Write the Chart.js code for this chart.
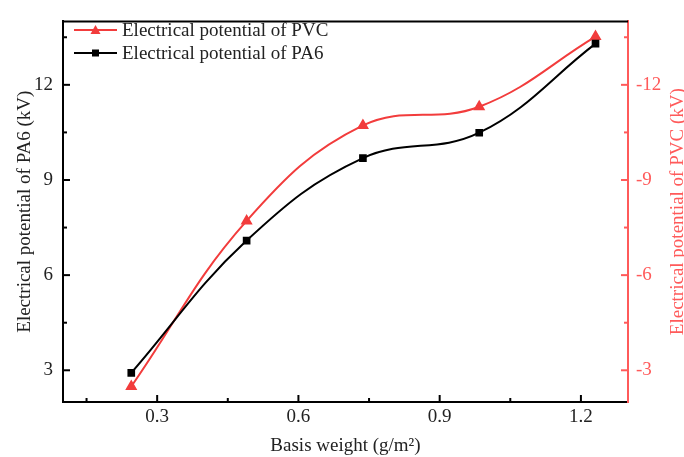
<!DOCTYPE html>
<html>
<head>
<meta charset="utf-8">
<script src="https://cdn.jsdelivr.net/npm/chart.js@4"></script>
<style>
  html, body { margin: 0; padding: 0; background: #fff; }
  #wrap { width: 684px; height: 457px; }
</style>
</head>
<body>
<div id="wrap"><canvas id="chart" width="684" height="457"></canvas></div>
<script>
// dati
const basisWeight = [0.245, 0.49, 0.737, 0.984, 1.231];
const pa6Potential = [2.92, 7.09, 9.69, 10.49, 13.30];
const pvcPotential = [-2.49, -7.71, -10.72, -11.31, -13.52];

const xTicks = [0.3, 0.6, 0.9, 1.2];
const xMinorTicks = [0.15, 0.45, 0.75, 1.05];
const leftTicks = [3, 6, 9, 12];
const leftMinorTicks = [4.5, 7.5, 10.5, 13.5];
const rightTicks = [-3, -6, -9, -12];
const rightMinorTicks = [-4.5, -7.5, -10.5, -13.5];

const labelPA6 = 'Electrical potential of PA6';
const labelPVC = 'Electrical potential of PVC';
const titleX = 'Basis weight (g/m\u00B2)';
const titleLeft = 'Electrical potential of PA6 (kV)';
const titleRight = 'Electrical potential of PVC (kV)';

const RED = '#f23c3c';
const RED_AXIS = '#ff5a5a';
const FONT = "'Liberation Serif', 'Times New Roman', serif";
const SIZE = 19;

const toPoints = (xs, ys) => xs.map((x, i) => ({ x: x, y: ys[i] }));

// tacche interne, bordo superiore, legenda e titolo destro
const extras = {
    id: 'extras',
    afterDraw(chart) {
        const ctx = chart.ctx;
        const { left, right, top, bottom } = chart.chartArea;
        const sx = chart.scales.x, sy = chart.scales.y, sy1 = chart.scales.y1;

        ctx.save();
        ctx.lineWidth = 2;
        ctx.strokeStyle = '#000';
        ctx.beginPath();
        ctx.moveTo(left - 1, top);
        ctx.lineTo(right, top);
        ctx.stroke();

        const tick = (x1, y1, x2, y2) => { ctx.beginPath(); ctx.moveTo(x1, y1); ctx.lineTo(x2, y2); ctx.stroke(); };

        ctx.strokeStyle = '#000';
        xTicks.forEach(v => { const p = sx.getPixelForValue(v); tick(p, bottom, p, bottom - 7); });
        xMinorTicks.forEach(v => { const p = sx.getPixelForValue(v); tick(p, bottom, p, bottom - 4); });
        leftTicks.forEach(v => { const p = sy.getPixelForValue(v); tick(left, p, left + 7, p); });
        leftMinorTicks.forEach(v => { const p = sy.getPixelForValue(v); tick(left, p, left + 4, p); });

        ctx.strokeStyle = RED_AXIS;
        rightTicks.forEach(v => { const p = sy1.getPixelForValue(v); tick(right, p, right - 7, p); });
        rightMinorTicks.forEach(v => { const p = sy1.getPixelForValue(v); tick(right, p, right - 4, p); });

        // legenda
        ctx.font = SIZE + 'px ' + FONT;
        ctx.textBaseline = 'middle';
        ctx.textAlign = 'left';
        const rows = [
            { ds: chart.data.datasets[0], y: 30 },
            { ds: chart.data.datasets[1], y: 53 }
        ];
        rows.forEach(r => {
            ctx.strokeStyle = r.ds.borderColor;
            ctx.lineWidth = 2;
            tick(74, r.y, 117, r.y);
            ctx.fillStyle = r.ds.borderColor;
            ctx.beginPath();
            if (r.ds.pointStyle === 'triangle') {
                ctx.moveTo(95.5, r.y - 5);
                ctx.lineTo(100.5, r.y + 4);
                ctx.lineTo(90.5, r.y + 4);
            } else {
                ctx.rect(92, r.y - 3.5, 7, 7);
            }
            ctx.fill();
            ctx.fillStyle = '#222';
            ctx.fillText(r.ds.label, 122, r.y + 1);
        });

        // titolo asse destro
        ctx.translate(678, (top + bottom) / 2);
        ctx.rotate(-Math.PI / 2);
        ctx.textAlign = 'center';
        ctx.fillStyle = RED_AXIS;
        ctx.fillText(titleRight, 0, 0);
        ctx.restore();
    }
};

const ctx = document.getElementById('chart').getContext('2d');
new Chart(ctx, {
    type: 'line',
    data: {
        datasets: [
            {
                label: labelPVC,
                data: toPoints(basisWeight, pvcPotential),
                yAxisID: 'y1',
                borderColor: RED,
                backgroundColor: RED,
                borderWidth: 2,
                pointStyle: 'triangle',
                pointRadius: 5,
                tension: 0.4,
                order: 1
            },
            {
                label: labelPA6,
                data: toPoints(basisWeight, pa6Potential),
                yAxisID: 'y',
                borderColor: '#000',
                backgroundColor: '#000',
                borderWidth: 2,
                pointStyle: 'rect',
                pointRadius: 4,
                tension: 0.4,
                order: 0
            }
        ]
    },
    options: {
        responsive: false,
        animation: false,
        layout: { padding: { top: 13 } },
        plugins: {
            legend: { display: false },
            tooltip: { enabled: false }
        },
        scales: {
            x: {
                type: 'linear',
                min: 0.1,
                max: 1.3,
                afterBuildTicks: s => { s.ticks = xTicks.map(v => ({ value: v })); },
                afterFit: s => { s.height = 55; },
                grid: { display: false, drawTicks: false },
                border: { display: true, color: '#000', width: 2 },
                ticks: {
                    color: '#222',
                    padding: 4,
                    font: { family: FONT, size: SIZE },
                    callback: v => v.toFixed(1)
                },
                title: {
                    display: true,
                    text: titleX,
                    color: '#222',
                    padding: { top: 0, bottom: 0 },
                    font: { family: FONT, size: SIZE }
                }
            },
            y: {
                type: 'linear',
                position: 'left',
                min: 2,
                max: 14,
                afterBuildTicks: s => { s.ticks = leftTicks.map(v => ({ value: v })); },
                afterFit: s => { s.width = 63; },
                grid: { display: false, drawTicks: false },
                border: { display: true, color: '#000', width: 2 },
                ticks: {
                    color: '#222',
                    padding: 10,
                    font: { family: FONT, size: SIZE }
                },
                title: {
                    display: true,
                    text: titleLeft,
                    color: '#222',
                    padding: { top: 14, bottom: 0 },
                    font: { family: FONT, size: SIZE }
                }
            },
            y1: {
                type: 'linear',
                position: 'right',
                min: -14,
                max: -2,
                reverse: true,
                afterBuildTicks: s => { s.ticks = rightTicks.map(v => ({ value: v })); },
                afterFit: s => { s.width = 56; },
                grid: { display: false, drawTicks: false },
                border: { display: true, color: RED_AXIS, width: 2 },
                ticks: {
                    color: RED_AXIS,
                    padding: 8,
                    font: { family: FONT, size: SIZE }
                },
                title: { display: false }
            }
        }
    },
    plugins: [extras]
});
</script>
</body>
</html>
